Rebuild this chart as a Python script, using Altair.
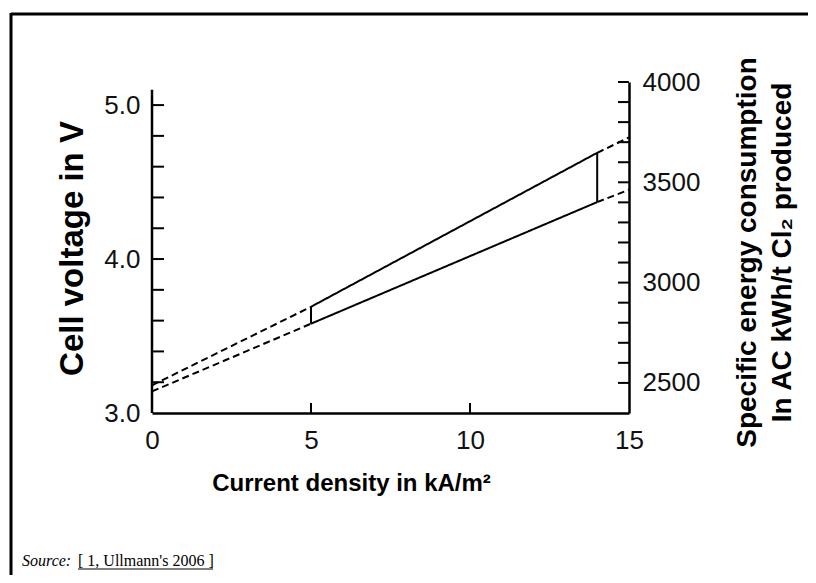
import altair as alt
import pandas as pd

# ---------------- data ----------------
seg_names = ["upper", "lower", "bar_5", "bar_14",
             "upper_ext_left", "lower_ext_left", "upper_ext_right", "lower_ext_right"]
seg_styles = ["solid", "solid", "solid", "solid",
              "dashed", "dashed", "dashed", "dashed"]
seg_x = [[5, 14], [5, 14], [5, 5], [14, 14],
         [0, 5], [0, 5], [14, 15], [14, 15]]
seg_volt = [[3.69, 4.69], [3.58, 4.37], [3.58, 3.69], [4.37, 4.69],
            [3.18, 3.69], [3.14, 3.58], [4.69, 4.79], [4.37, 4.45]]

volt_domain = [3.0, 5.15]
energy_domain = [2350, 4000]
x_domain = [0, 15]

volt_labels = [3.0, 4.0, 5.0]
volt_ticks = [3.2, 3.4, 3.6, 3.8, 4.0, 4.2, 4.4, 4.6, 4.8, 5.0]
volt_axis_span = [3.0, 5.1]
energy_labels = [2500, 3000, 3500, 4000]
energy_ticks = [2500, 2600, 2700, 2800, 2900, 3000, 3100, 3200, 3300, 3400,
                3500, 3600, 3700, 3800, 3900, 4000]
x_labels = [0, 5, 10, 15]
x_ticks = [5, 10]

# ---------------- layout ----------------
W, H = 477, 331
FONT = "Liberation Sans"

rows = []
for name, style, xs, vs in zip(seg_names, seg_styles, seg_x, seg_volt):
    for i, (xx, vv) in enumerate(zip(xs, vs)):
        rows.append({"seg": name, "style": style, "order": i, "x": xx, "v": vv})
seg_df = pd.DataFrame(rows)

x_axis = alt.Axis(values=x_labels, ticks=False, grid=False, labelFlush=False,
                  labelFontSize=26, labelPadding=14, labelColor="#111111",
                  domainColor="black", domainWidth=2.5,
                  title="Current density in kA/m²", titleFontSize=24,
                  titleFontWeight="bold", titleX=199, titleY=70,
                  titleAlign="center", titleBaseline="middle", titleColor="black")
x_scale = alt.Scale(domain=x_domain, nice=False, zero=False)

y_axis = alt.Axis(orient="left", values=volt_labels, format=".1f", ticks=False,
                  grid=False, domain=False, labelFontSize=26, labelPadding=12,
                  labelColor="#111111", labelOverlap=False,
                  title="Cell voltage in V", titleFontSize=33, titleFontWeight="bold",
                  titleX=-80, titleY=166, titleAngle=-90, titleAlign="center",
                  titleBaseline="middle", titleColor="black")
y_scale = alt.Scale(domain=volt_domain, nice=False, zero=False)

e_axis = alt.Axis(orient="right", values=energy_labels, format="d", ticks=False,
                  grid=False, labelFontSize=26, labelPadding=13,
                  labelColor="#111111", labelOverlap=False,
                  domainColor="black", domainWidth=2.5,
                  title=["Specific energy consumption", "In AC kWh/t Cl₂ produced"],
                  titleFontSize=28, titleFontWeight="bold", titleLineHeight=35,
                  titleX=118, titleY=170, titleAngle=-90, titleAlign="center",
                  titleBaseline="middle", titleColor="black")
e_scale = alt.Scale(domain=energy_domain, nice=False, zero=False)

lines = alt.Chart(seg_df).mark_line(color="black", strokeWidth=2).encode(
    x=alt.X("x:Q", scale=x_scale, axis=x_axis),
    y=alt.Y("v:Q", scale=y_scale, axis=y_axis),
    detail="seg:N",
    order="order:Q",
    strokeDash=alt.StrokeDash("style:N", legend=None,
                              scale=alt.Scale(domain=["solid", "dashed"],
                                              range=[[1, 0], [7, 4]])),
)

left_ticks = alt.Chart(pd.DataFrame({"v": volt_ticks})).mark_rule(
    color="black", strokeWidth=2).encode(
    y=alt.Y("v:Q", scale=y_scale, axis=y_axis),
    x=alt.value(0), x2=alt.value(12))

left_axis_line = alt.Chart(pd.DataFrame({"v": [volt_axis_span[0]], "v2": [volt_axis_span[1]]})).mark_rule(
    color="black", strokeWidth=2.5).encode(
    y=alt.Y("v:Q", scale=y_scale, axis=y_axis), y2="v2:Q", x=alt.value(0))

bottom_ticks = alt.Chart(pd.DataFrame({"x": x_ticks})).mark_rule(
    color="black", strokeWidth=2).encode(
    x=alt.X("x:Q", scale=x_scale, axis=x_axis),
    y=alt.value(H - 10), y2=alt.value(H))

border_top = alt.Chart(pd.DataFrame({"a": [0]})).mark_rule(
    color="black", strokeWidth=3).encode(
    x=alt.value(-141), x2=alt.value(700), y=alt.value(-68))
border_left = alt.Chart(pd.DataFrame({"a": [0]})).mark_rule(
    color="black", strokeWidth=3).encode(
    x=alt.value(-141), y=alt.value(-69), y2=alt.value(560))

source_label = alt.Chart(pd.DataFrame({"t": ["Source:"]})).mark_text(
    font="Liberation Serif", fontSize=16, fontStyle="italic", align="left",
    baseline="alphabetic", color="black").encode(
    text="t:N", x=alt.value(-130), y=alt.value(484))
source_ref = alt.Chart(pd.DataFrame({"t": ["[ 1, Ullmann's 2006 ]"]})).mark_text(
    font="Liberation Serif", fontSize=16, align="left",
    baseline="alphabetic", color="black").encode(
    text="t:N", x=alt.value(-74), y=alt.value(484))
source_underline = alt.Chart(pd.DataFrame({"a": [0]})).mark_rule(
    color="black", strokeWidth=1).encode(
    x=alt.value(-74), x2=alt.value(61), y=alt.value(487))

volt_layer = alt.layer(lines, left_ticks, left_axis_line, bottom_ticks,
                       border_top, border_left, source_label, source_ref,
                       source_underline)

energy_layer = alt.Chart(pd.DataFrame({"e": energy_ticks})).mark_rule(
    color="black", strokeWidth=2).encode(
    y=alt.Y("e:Q", scale=e_scale, axis=e_axis),
    x=alt.value(W - 11), x2=alt.value(W))

chart = alt.layer(volt_layer, energy_layer).resolve_scale(
    y="independent"
).properties(
    width=W, height=H,
    autosize=alt.AutoSizeParams(type="none"),
    padding={"left": 144, "top": 74, "right": 179, "bottom": 162},
).configure_view(stroke=None).configure_axis(
    labelFont=FONT, titleFont=FONT
)

chart.save("out.html", embed_options={"renderer": "svg", "actions": False})
